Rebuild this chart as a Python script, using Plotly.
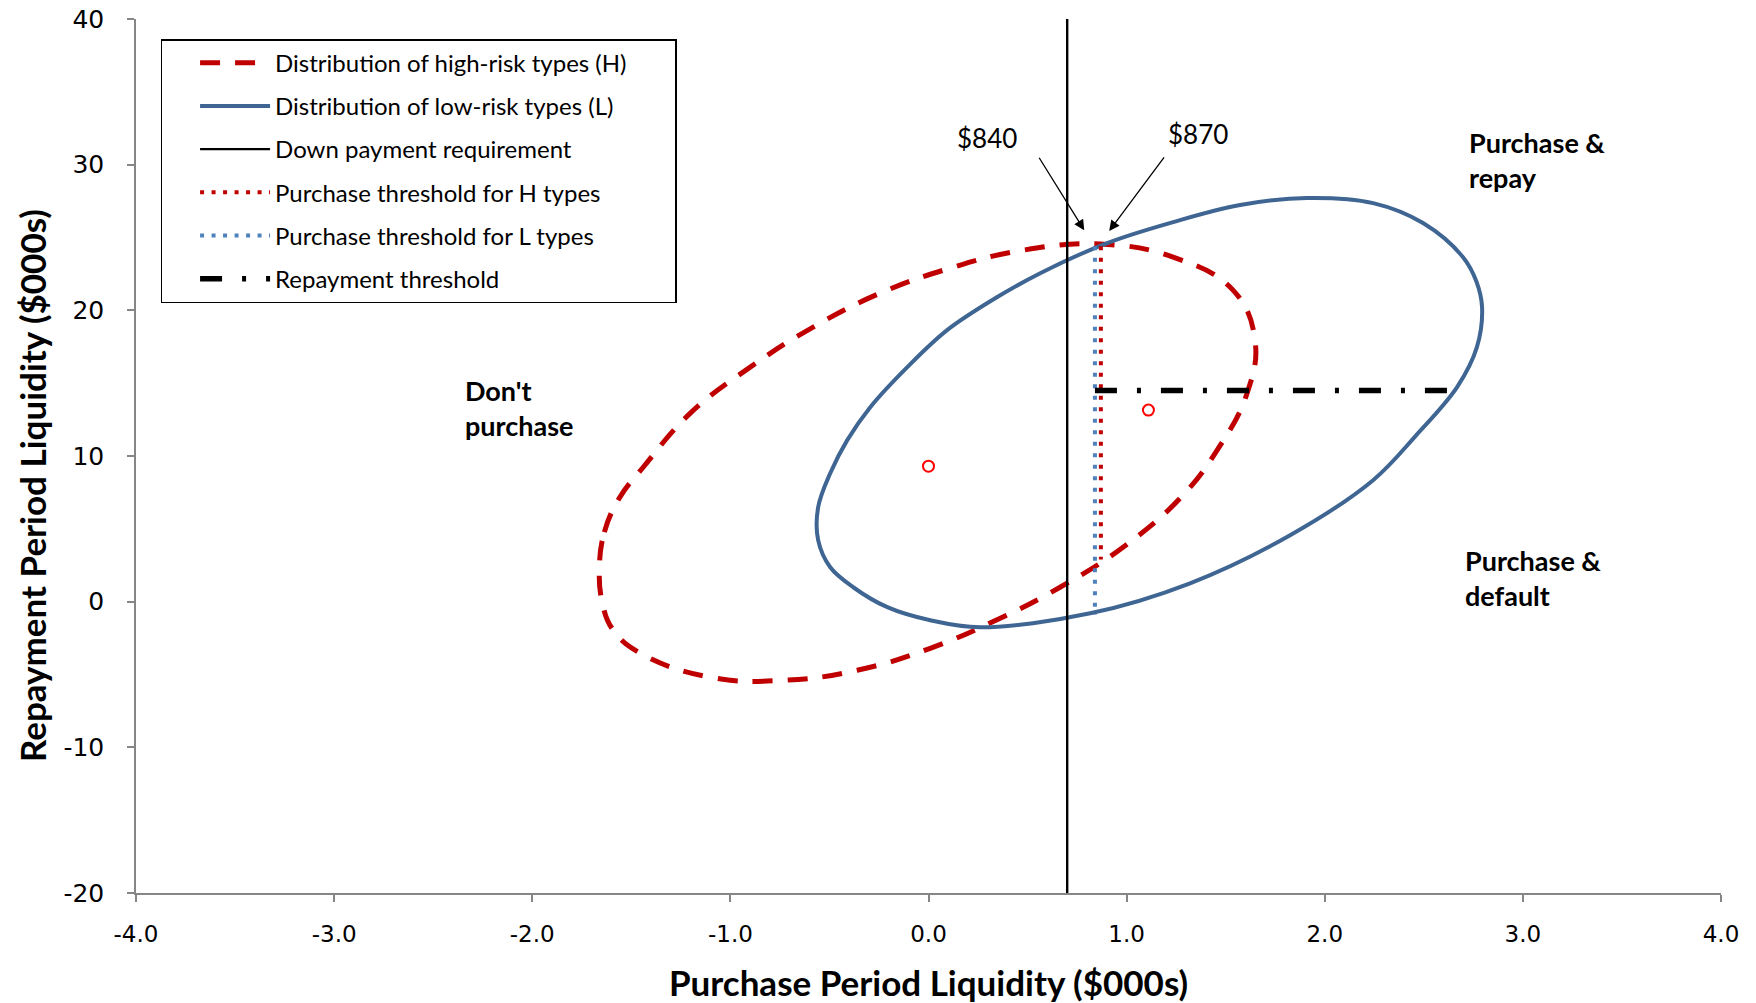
import plotly.graph_objects as go

# ---- data ----
h_dist_x = [-1.661, -1.636, -1.561, -1.440, -1.202, -0.900, -0.582, -0.244, 0.110, 0.478, 0.866,
            1.235, 1.537, 1.648, 1.608, 1.457, 1.270, 0.982, 0.664, 0.362, 0.009,
            -0.360, -0.733, -1.101, -1.455, -1.591, -1.646]
h_dist_y = [2.36, 4.77, 7.10, 9.23, 12.94, 16.10, 18.85, 21.18, 22.90, 24.13, 24.55,
            23.65, 21.39, 17.95, 14.31, 10.40, 7.10, 3.74, 0.99, -1.14, -3.20,
            -4.71, -5.40, -5.19, -3.54, -1.96, -0.11]

l_dist_x = [-0.557, -0.496, -0.410, -0.294, -0.107, 0.094, 0.347, 0.564, 0.902, 1.235,
            1.573, 1.911, 2.244, 2.496, 2.698, 2.765, 2.794, 2.768, 2.668, 2.460, 2.244,
            1.825, 1.320, 0.816, 0.261, 0.009, -0.208, -0.380, -0.496, -0.557]
l_dist_y = [6.48, 8.82, 11.09, 13.35, 16.10, 18.64, 20.91, 22.55, 24.62, 26.06,
            27.23, 27.71, 27.36, 25.99, 23.65, 22.00, 20.22, 17.47, 14.73, 11.40, 8.34,
            4.56, 1.26, -0.80, -1.76, -1.28, -0.38, 0.99, 2.36, 4.22]

down_payment_x = [0.70, 0.70]
down_payment_y = [-20, 40]

h_threshold_x = [0.87, 0.87]
h_threshold_y = [24.4, 2.9]

l_threshold_x = [0.84, 0.84]
l_threshold_y = [24.4, -0.9]

repay_x = [0.84, 2.66]
repay_y = [14.5, 14.5]

means_x = [0.0, 1.11]
means_y = [9.3, 13.15]

x_ticks = [-4.0, -3.0, -2.0, -1.0, 0.0, 1.0, 2.0, 3.0, 4.0]
x_tick_text = ["-4.0", "-3.0", "-2.0", "-1.0", "0.0", "1.0", "2.0", "3.0", "4.0"]
y_ticks = [-20, -10, 0, 10, 20, 30, 40]
y_tick_text = ["-20", "-10", "0", "10", "20", "30", "40"]

names = ["Distribution of high-risk types (H)",
         "Distribution of low-risk types (L)",
         "Down payment requirement",
         "Purchase threshold for H types",
         "Purchase threshold for L types",
         "Repayment threshold"]

RED = "#C00000"
BLUE = "#3F6593"
LBLUE = "#4F81BD"
FONT = "Lato"
TICKFONT = "DejaVu Sans"
PAD = "\u00a0" * 7  # right-hand padding inside the legend box

fig = go.Figure()

fig.add_trace(go.Scatter(x=h_dist_x + [h_dist_x[0]], y=h_dist_y + [h_dist_y[0]], mode="lines",
                         line=dict(color=RED, width=5, dash="20px,15px", shape="spline", smoothing=1.2),
                         name=names[0] + PAD, legendgroup="g1"))
fig.add_trace(go.Scatter(x=l_dist_x + [l_dist_x[0]], y=l_dist_y + [l_dist_y[0]], mode="lines",
                         line=dict(color=BLUE, width=4, shape="spline", smoothing=1.0),
                         name=names[1], legendgroup="g2"))
fig.add_trace(go.Scatter(x=down_payment_x, y=down_payment_y, mode="lines",
                         line=dict(color="black", width=2.4),
                         name=names[2], legendgroup="g3"))
fig.add_trace(go.Scatter(x=l_threshold_x, y=l_threshold_y, mode="lines",
                         line=dict(color=LBLUE, width=4, dash="4px,7.5px"),
                         name=names[4], legendgroup="g5", showlegend=False))
fig.add_trace(go.Scatter(x=h_threshold_x, y=h_threshold_y, mode="lines",
                         line=dict(color=RED, width=4, dash="4px,7.5px"),
                         name=names[3], legendgroup="g4"))
fig.add_trace(go.Scatter(x=[None], y=[None], mode="lines",
                         line=dict(color=LBLUE, width=4, dash="4px,7.5px"),
                         name=names[4], legendgroup="g5"))
fig.add_trace(go.Scatter(x=repay_x, y=repay_y, mode="lines",
                         line=dict(color="black", width=5.5, dash="22px,20px,4px,20px"),
                         name=names[5], legendgroup="g6"))
fig.add_trace(go.Scatter(x=means_x, y=means_y, mode="markers",
                         marker=dict(symbol="circle-open", size=11, color="#FF0000",
                                     line=dict(width=2, color="#FF0000")),
                         showlegend=False))

# arrows
fig.add_annotation(x=0.786, y=25.5, ax=-46, ay=-74, text="", showarrow=True,
                   arrowhead=2, arrowsize=1.6, arrowwidth=1.3, arrowcolor="black")
fig.add_annotation(x=0.912, y=25.45, ax=56, ay=-75, text="", showarrow=True,
                   arrowhead=2, arrowsize=1.6, arrowwidth=1.3, arrowcolor="black")
fig.add_annotation(x=0.296, y=31.83, text="$840", showarrow=False,
                   font=dict(family=FONT, size=26, color="black"))
fig.add_annotation(x=1.361, y=32.1, text="$870", showarrow=False,
                   font=dict(family=FONT, size=26, color="black"))

# region labels
for tx, ty, txt in [(-2.35, 13.3, "Don't<br>purchase"),
                    (2.72, 30.3, "Purchase &<br>repay"),
                    (2.70, 1.6, "Purchase &<br>default")]:
    fig.add_annotation(x=tx, y=ty, text="<b>" + txt + "</b>", showarrow=False,
                       xanchor="left", align="left",
                       font=dict(family=FONT, size=27, color="black"))

# y-axis title (offset below the centre as in the reference)
fig.add_annotation(xref="paper", yref="paper", x=-0.066, y=0.466, textangle=-90,
                   xanchor="center", yanchor="middle",
                   text="<b>Repayment Period Liquidity ($000s)</b>", showarrow=False,
                   font=dict(family=FONT, size=35, color="black"))

fig.update_layout(
    width=1756, height=1003, autosize=False,
    margin=dict(l=136, r=35, t=19, b=110),
    paper_bgcolor="white", plot_bgcolor="white",
    font=dict(family=FONT, color="black"),
    legend=dict(x=0.0155, y=0.977, xanchor="left", yanchor="top",
                bgcolor="white", bordercolor="black", borderwidth=1.5,
                font=dict(family=FONT, size=24, color="black"),
                traceorder="grouped", tracegroupgap=9, itemwidth=70,
                indentation=33),
    xaxis=dict(range=[-4, 4], tickvals=x_ticks, ticktext=x_tick_text, automargin=False,
               showgrid=False, zeroline=False, showline=True,
               linecolor="#868686", linewidth=1.5, ticks="outside", ticklen=7,
               tickcolor="#868686", tickwidth=1.5, ticklabelstandoff=13,
               ticklabeloverflow="allow",
               tickfont=dict(family=TICKFONT, size=23, color="black"),
               title=dict(text="<b>Purchase Period Liquidity ($000s)</b>",
                          font=dict(family=FONT, size=35, color="black"), standoff=26)),
    yaxis=dict(range=[-20, 40], tickvals=y_ticks, ticktext=y_tick_text, automargin=False,
               showgrid=False, zeroline=False, showline=True,
               linecolor="#868686", linewidth=1.5, ticks="outside", ticklen=7,
               tickcolor="#868686", tickwidth=1.5, ticklabelstandoff=18,
               ticklabeloverflow="allow",
               tickfont=dict(family=TICKFONT, size=25, color="black")),
)

fig.write_html("out.html", config={"displayModeBar": False},
               post_script="document.body.style.margin = '0';")
